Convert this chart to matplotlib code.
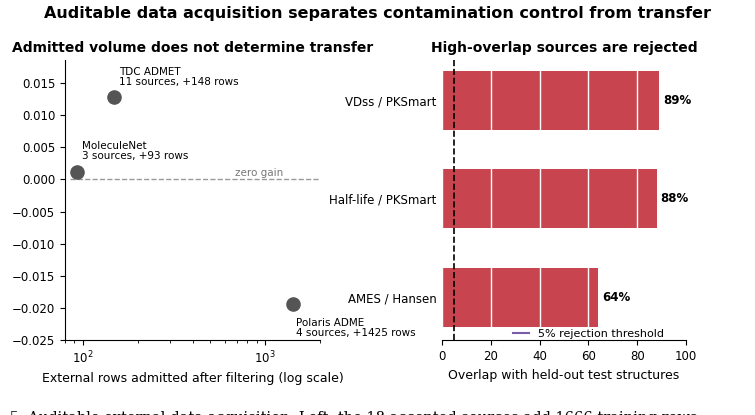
import matplotlib.pyplot as plt
import numpy as np

# left panel data
src_names = ["TDC ADMET", "MoleculeNet", "Polaris ADME"]
src_info = ["11 sources, +148 rows", "3 sources, +93 rows", "4 sources, +1425 rows"]
rows_added = [148, 93, 1425]
gain = [0.0128, 0.0012, -0.0194]

# right panel data
pairs = ["AMES / Hansen", "Half-life / PKSmart", "VDss / PKSmart"]
overlap = [64, 88, 89]

fig = plt.figure(figsize=(7.55, 4.15), dpi=100)
fig.suptitle("Auditable data acquisition separates contamination control from transfer",
             fontsize=11.5, fontweight="bold", y=0.985)

ax1 = fig.add_axes([0.086, 0.18, 0.338, 0.675])
ax1.scatter(rows_added, gain, s=90, color="#555555", zorder=3)
ax1.set_xscale("log")
ax1.set_xlim(80, 2000)
ax1.set_ylim(-0.025, 0.0185)
ax1.hlines(0, 85, 2000, colors="#999999", linestyles="--", linewidth=1)
ax1.text(1250, 0.0002, "zero gain", color="#777777", fontsize=7.5, ha="right", va="bottom")
offs = [0.0015, 0.0017, -0.0022]
for x, y, n, i, dy in zip(rows_added, gain, src_names, src_info, offs):
    xx = x * 1.07 if n != "Polaris ADME" else x * 1.03
    ax1.text(xx, y + dy, n + "\n" + i, fontsize=7.5, ha="left",
             va="bottom" if dy > 0 else "top", linespacing=1.0)
ax1.set_xlabel("External rows admitted after filtering (log scale)", fontsize=9)
ax1.set_title("Admitted volume does not determine transfer", fontsize=10, fontweight="bold", pad=6)
ax1.spines[["top", "right"]].set_visible(False)
ax1.tick_params(labelsize=8.5)

ax2 = fig.add_axes([0.585, 0.18, 0.324, 0.675])
ax2.barh(pairs, overlap, height=0.6, color="#c8454f", zorder=1)
ax2.set_xlim(0, 100)
ax2.set_ylim(-0.44, 2.41)
ax2.set_axisbelow(False)
ax2.grid(axis="x", color="white", linewidth=1, zorder=2)
ax2.axvline(5, color="black", linestyle="--", linewidth=1.2, zorder=3)
ax2.plot([], [], color="#7a5ca8", linewidth=1.5, label="5% rejection threshold")
for i, v in enumerate(overlap):
    ax2.text(v + 1.5, i, f"{v}%", fontsize=8.5, fontweight="bold", va="center")
ax2.legend(loc="lower center", bbox_to_anchor=(0.6, -0.03), frameon=False, fontsize=8,
           handlelength=1.5)
ax2.set_xlabel("Overlap with held-out test structures", fontsize=9)
ax2.set_title("High-overlap sources are rejected", fontsize=10, fontweight="bold", pad=6)
ax2.spines[["top", "right", "left"]].set_visible(False)
ax2.tick_params(axis="y", length=0, labelsize=8.5)
ax2.tick_params(axis="x", labelsize=8.5)

fig.text(-0.012, -0.018, "g. 5. Auditable external-data acquisition. Left, the 18 accepted sources add 1666 training rows.",
         family="serif", fontsize=10.5)

fig.savefig("out.png", dpi=100)
